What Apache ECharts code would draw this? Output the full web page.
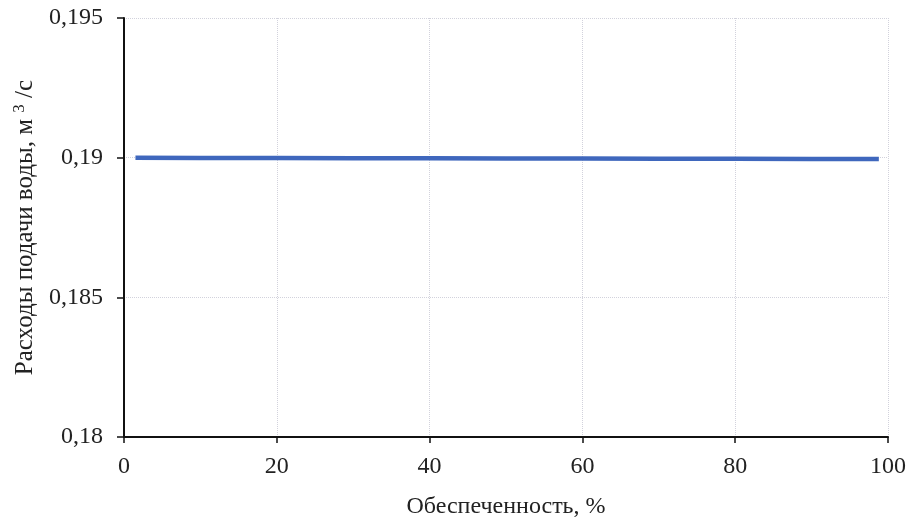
<!DOCTYPE html>
<html>
<head>
<meta charset="utf-8">
<script src="https://cdn.jsdelivr.net/npm/echarts@6/dist/echarts.min.js"></script>
<style>html,body{margin:0;padding:0;background:#fff}#c{width:916px;height:525px}</style>
</head>
<body>
<div id="c"></div>
<script>
var xValues = [1.5, 10, 20, 30, 40, 50, 60, 70, 80, 90, 98.8];
var flowValues = [0.19, 0.18999, 0.18999, 0.18998, 0.18998, 0.18997, 0.18997, 0.18996, 0.18996, 0.18995, 0.18995];
var xTitle = 'Обеспеченность, %';
var yTitleMain = 'Расходы подачи воды, м ';
var yTitleSup = '3';
var yTitleEnd = ' /с';

var font = '"Liberation Serif", "DejaVu Serif", serif';
var chart = echarts.init(document.getElementById('c'));
chart.setOption({
  animation: false,
  grid: {left: 124, right: 28, top: 18, bottom: 88, outerBoundsMode: 'none', containLabel: false},
  xAxis: {
    type: 'value', min: 0, max: 100, interval: 20,
    axisLine: {lineStyle: {color: '#111', width: 2}},
    axisTick: {show: true, length: 6, lineStyle: {color: '#111', width: 1.5}},
    axisLabel: {color: '#222', fontFamily: font, fontSize: 24, margin: 18},
    splitLine: {show: true, lineStyle: {color: '#d2d2dc', type: 'dotted', width: 1}},
    name: xTitle, nameLocation: 'middle', nameGap: 58,
    nameTextStyle: {color: '#222', fontFamily: font, fontSize: 24}
  },
  yAxis: {
    type: 'value', min: 0.18, max: 0.195, interval: 0.005,
    axisLine: {show: true, lineStyle: {color: '#111', width: 2}},
    axisTick: {show: true, length: 7, lineStyle: {color: '#111', width: 1.5}},
    axisLabel: {color: '#222', fontFamily: font, fontSize: 24, margin: 21,
      formatter: function (v) { return String(+v.toFixed(3)).replace('.', ','); }},
    splitLine: {show: true, lineStyle: {color: '#d2d2dc', type: 'dotted', width: 1}},
    name: '{a|' + yTitleMain + '}{s|' + yTitleSup + '}{a|' + yTitleEnd + '}',
    nameLocation: 'middle', nameRotate: 90, nameGap: 84,
    nameTextStyle: {
      color: '#222', fontFamily: font, fontSize: 25,
      rich: {
        a: {fontFamily: font, fontSize: 25, color: '#222'},
        s: {fontFamily: font, fontSize: 17, color: '#222', verticalAlign: 'top', padding: [0, 0, 12, 0]}
      }
    }
  },
  series: [{
    type: 'line',
    data: xValues.map(function (x, i) { return [x, flowValues[i]]; }),
    showSymbol: false,
    lineStyle: {color: '#3f67bd', width: 4.5},
    itemStyle: {color: '#3f67bd'}
  }]
});
</script>
</body>
</html>
